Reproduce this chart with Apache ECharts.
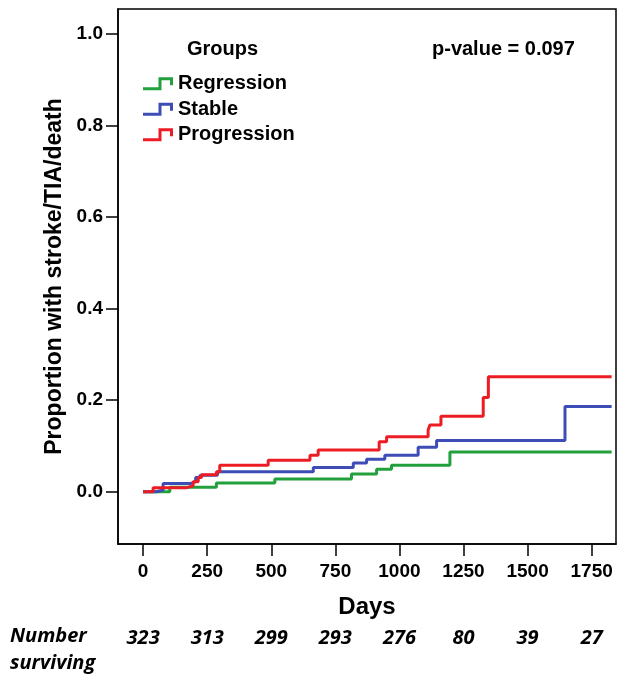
<!DOCTYPE html>
<html>
<head>
<meta charset="utf-8">
<script src="https://cdn.jsdelivr.net/npm/echarts@6/dist/echarts.min.js"></script>
<style>
html,body{margin:0;padding:0;background:#fff;}
#chart{width:625px;height:675px;}
</style>
</head>
<body>
<div id="chart"></div>
<script>
// ---- data ----
const groupNames = ["Regression", "Stable", "Progression"];
// step points: [day, cumulative proportion]
const regression = [[0,0],[104,0.010],[286,0.019],[514,0.028],[813,0.039],[911,0.049],[969,0.058],[1197,0.087],[1828,0.087]];
const stable = [[0,0],[52,0.004],[78,0.018],[185,0.022],[205,0.031],[222,0.036],[290,0.044],[664,0.053],[820,0.063],[872,0.071],[943,0.080],[1073,0.097],[1145,0.112],[1646,0.186],[1828,0.186]];
const progression = [[0,0],[39,0.009],[170,0.013],[195,0.022],[215,0.031],[228,0.037],[286,0.044],[299,0.058],[488,0.069],[651,0.080],[683,0.091],[921,0.109],[950,0.120],[1112,0.135],[1119,0.146],[1162,0.165],[1327,0.206],[1347,0.251],[1828,0.251]];
const xTicks = [0,250,500,750,1000,1250,1500,1750];
const yTicks = [0,0.2,0.4,0.6,0.8,1.0];
const numberSurviving = [323,313,299,293,276,80,39,27];
const pValueText = "p-value = 0.097";

const colors = ["#22a03c", "#3d4db5", "#ed1c24"];
const FONT = "Liberation Sans";
const stepIcon = "path://M0,10 L15.5,10 L15.5,0 L30,0 L30,8 L27,8 L27,3 L18.5,3 L18.5,13 L0,13 Z";

const chart = echarts.init(document.getElementById('chart'), null, {renderer:'canvas'});
const seriesData = [regression, stable, progression];

const option = {
  backgroundColor: '#fff',
  animation: false,
  textStyle: {fontFamily: FONT},
  title: [
    {text: 'Groups', left: 187, top: 39, padding: 0, textStyle: {fontFamily: FONT, fontWeight: 'bold', fontSize: 20, color: '#000'}},
    {text: pValueText, left: 432, top: 39, padding: 0, textStyle: {fontFamily: FONT, fontWeight: 'bold', fontSize: 20, color: '#000'}}
  ],
  legend: {
    data: groupNames.map(n => ({name: n, icon: stepIcon})),
    orient: 'vertical',
    left: 143,
    top: 71,
    padding: 0,
    itemWidth: 30,
    itemHeight: 13,
    itemGap: 0,
    textStyle: {fontFamily: FONT, fontWeight: 'bold', fontSize: 20, color: '#000', lineHeight: 25.5}
  },
  grid: {left: 118, right: 9, top: 9, bottom: 131, show: true, borderColor: '#000', borderWidth: 1.5, containLabel: false},
  xAxis: [
    {
      type: 'value', min: -98, max: 1845,
      axisLine: {show: true, onZero: false, lineStyle: {color: '#000', width: 1.5}},
      axisTick: {show: true, customValues: xTicks, length: 12, lineStyle: {color: '#000', width: 1.5}},
      axisLabel: {customValues: xTicks, margin: 18, formatter: v => String(v), fontFamily: FONT, fontWeight: 'bold', fontSize: 19, color: '#000'},
      splitLine: {show: false},
      name: 'Days', nameLocation: 'middle', nameGap: 51,
      nameTextStyle: {fontFamily: FONT, fontWeight: 'bold', fontSize: 24, color: '#000'}
    },
    {
      type: 'value', min: -98, max: 1845, position: 'bottom', offset: 0,
      axisLine: {show: false},
      axisTick: {show: false},
      splitLine: {show: false},
      axisLabel: {
        customValues: xTicks, margin: 84,
        fontFamily: 'Open Sans', fontStyle: 'italic', fontWeight: 'bold', fontSize: 20, color: '#000',
        formatter: v => String(numberSurviving[xTicks.indexOf(v)])
      }
    }
  ],
  yAxis: {
    type: 'value', min: -0.114, max: 1.054,
    axisLine: {show: true, onZero: false, lineStyle: {color: '#000', width: 1.5}},
    axisTick: {show: true, customValues: yTicks, length: 12, lineStyle: {color: '#000', width: 1.5}},
    axisLabel: {customValues: yTicks, margin: 15, formatter: v => v.toFixed(1), fontFamily: FONT, fontWeight: 'bold', fontSize: 19, color: '#000'},
    splitLine: {show: false},
    name: 'Proportion with stroke/TIA/death', nameLocation: 'middle', nameGap: 50, nameRotate: 90,
    nameTextStyle: {fontFamily: FONT, fontWeight: 'bold', fontSize: 23, color: '#000'}
  },
  graphic: [
    {type: 'text', left: 10, top: 626, style: {text: 'Number', font: 'italic bold 20px "Open Sans"', fill: '#000'}},
    {type: 'text', left: 10, top: 653, style: {text: 'surviving', font: 'italic bold 20px "Open Sans"', fill: '#000'}}
  ],
  series: groupNames.map((n, i) => ({
    name: n, type: 'line', step: 'end', data: seriesData[i],
    xAxisIndex: 0, yAxisIndex: 0,
    symbol: 'none', color: colors[i],
    lineStyle: {width: 3, color: colors[i]}
  }))
};
chart.setOption(option);
</script>
</body>
</html>
